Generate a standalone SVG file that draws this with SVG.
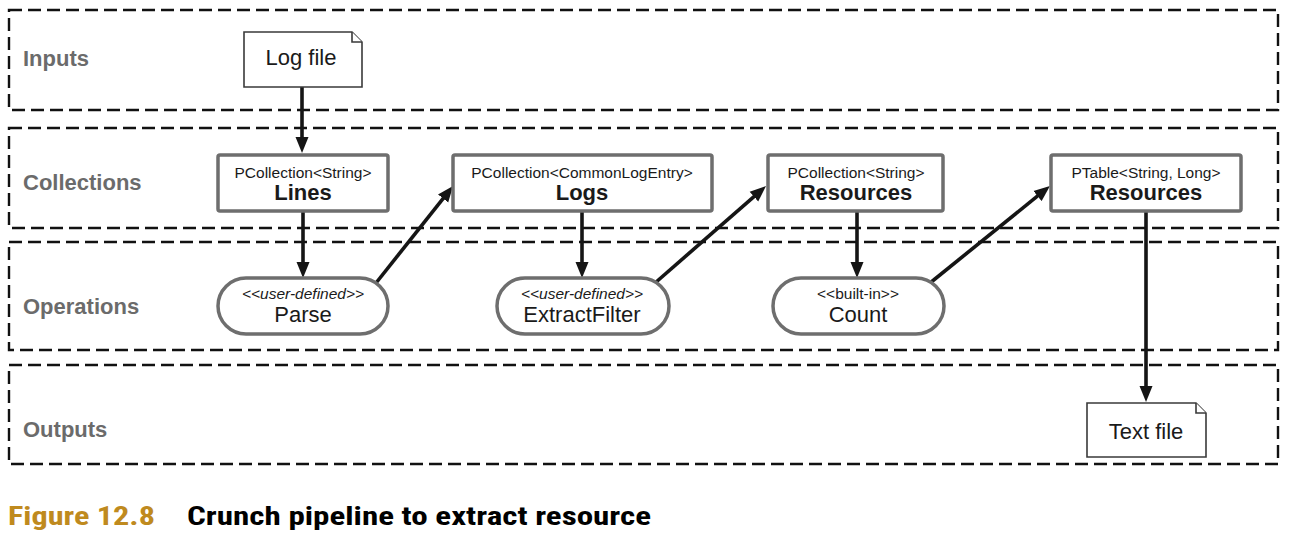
<svg xmlns="http://www.w3.org/2000/svg" width="1290" height="538" viewBox="0 0 1290 538">
<style>
.lane{fill:none;stroke:#111;stroke-width:2.4;stroke-dasharray:13 6}
.lbl{font-family:"Liberation Sans",Arial,sans-serif;font-weight:bold;font-size:22px;fill:#6b6b6b}
.box{fill:#fff;stroke:#6e6e6e;stroke-width:3.5}
.doc{fill:#fff;stroke:#3a3a3a;stroke-width:1.6}
.t{font-family:"Liberation Sans",Arial,sans-serif;fill:#1a1a1a;text-anchor:middle}
.small{font-size:15.5px}
.big{font-size:22px}
.bold{font-weight:bold}
.ital{font-style:italic}
.conn{fill:none;stroke:#151515;stroke-width:3.6}
.cap{font-family:"Liberation Sans Narrow","Roboto Condensed","Liberation Sans",Arial,sans-serif;font-weight:bold;font-size:25px}
</style>
<defs>
<marker id="ah" markerUnits="userSpaceOnUse" markerWidth="17" markerHeight="14" refX="5" refY="7" orient="auto" viewBox="0 0 17 14">
<path d="M0,0.5 L16,7 L0,13.5 z" fill="#151515"/>
</marker>
</defs>
<g id="lanes">
<rect class="lane" x="9" y="10" width="1269" height="100"/>
<rect class="lane" x="9" y="128" width="1269" height="100"/>
<rect class="lane" x="9" y="242" width="1269" height="108"/>
<rect class="lane" x="9" y="365" width="1269" height="99"/>
<text class="lbl" x="23" y="66">Inputs</text>
<text class="lbl" x="23" y="190">Collections</text>
<text class="lbl" x="23" y="314">Operations</text>
<text class="lbl" x="23" y="437">Outputs</text>
</g>
<g id="connectors">
<line class="conn" x1="302" y1="87" x2="302" y2="142" marker-end="url(#ah)"/>
<line class="conn" x1="303" y1="211" x2="303" y2="267" marker-end="url(#ah)"/>
<line class="conn" x1="376" y1="283" x2="446.2" y2="194.6" marker-end="url(#ah)"/>
<line class="conn" x1="655" y1="283" x2="757.7" y2="193.3" marker-end="url(#ah)"/>
<line class="conn" x1="582" y1="211" x2="582" y2="267" marker-end="url(#ah)"/>
<line class="conn" x1="857" y1="211" x2="857" y2="267" marker-end="url(#ah)"/>
<line class="conn" x1="930" y1="283" x2="1041.4" y2="192.9" marker-end="url(#ah)"/>
<line class="conn" x1="1146" y1="211" x2="1146" y2="391" marker-end="url(#ah)"/>
</g>
<g id="logfile">
<path class="doc" d="M244,32 H352 L362,42 V87 H244 Z"/>
<path class="doc" d="M352,32 V42 H362" fill="none"/>
<text class="t big" x="301" y="65">Log file</text>
</g>
<g id="lines">
<rect class="box" x="218" y="155" width="170" height="56" rx="2"/>
<text class="t small" x="303" y="178">PCollection&lt;String&gt;</text>
<text class="t big bold" x="303" y="200">Lines</text>
</g>
<g id="logs">
<rect class="box" x="453" y="155" width="259" height="56" rx="2"/>
<text class="t small" x="582" y="178">PCollection&lt;CommonLogEntry&gt;</text>
<text class="t big bold" x="582" y="200">Logs</text>
</g>
<g id="resources1">
<rect class="box" x="768" y="155" width="175" height="56" rx="2"/>
<text class="t small" x="856" y="178">PCollection&lt;String&gt;</text>
<text class="t big bold" x="856" y="200">Resources</text>
</g>
<g id="resources2">
<rect class="box" x="1051" y="155" width="190" height="56" rx="2"/>
<text class="t small" x="1146" y="178">PTable&lt;String, Long&gt;</text>
<text class="t big bold" x="1146" y="200">Resources</text>
</g>
<g id="parse">
<rect class="box" x="218" y="278" width="170" height="56" rx="28"/>
<text class="t small ital" x="303" y="299">&lt;&lt;user-defined&gt;&gt;</text>
<text class="t big" x="303" y="322">Parse</text>
</g>
<g id="extractfilter">
<rect class="box" x="497" y="278" width="172" height="56" rx="28"/>
<text class="t small ital" x="582" y="299">&lt;&lt;user-defined&gt;&gt;</text>
<text class="t big" x="582" y="322">ExtractFilter</text>
</g>
<g id="count">
<rect class="box" x="773" y="278" width="171" height="56" rx="28"/>
<text class="t small" x="858" y="299">&lt;&lt;built-in&gt;&gt;</text>
<text class="t big" x="858" y="322">Count</text>
</g>
<g id="textfile">
<path class="doc" d="M1087,403 H1196 L1206,413 V457 H1087 Z"/>
<path class="doc" d="M1196,403 V413 H1206" fill="none"/>
<text class="t big" x="1146" y="439">Text file</text>
</g>
<g id="caption">
<text class="cap" x="8" y="525" fill="#bf8a1e" textLength="147" lengthAdjust="spacingAndGlyphs">Figure 12.8</text>
<text class="cap" x="187" y="525" fill="#000" textLength="464" lengthAdjust="spacingAndGlyphs">Crunch pipeline to extract resource</text>
</g>
</svg>
